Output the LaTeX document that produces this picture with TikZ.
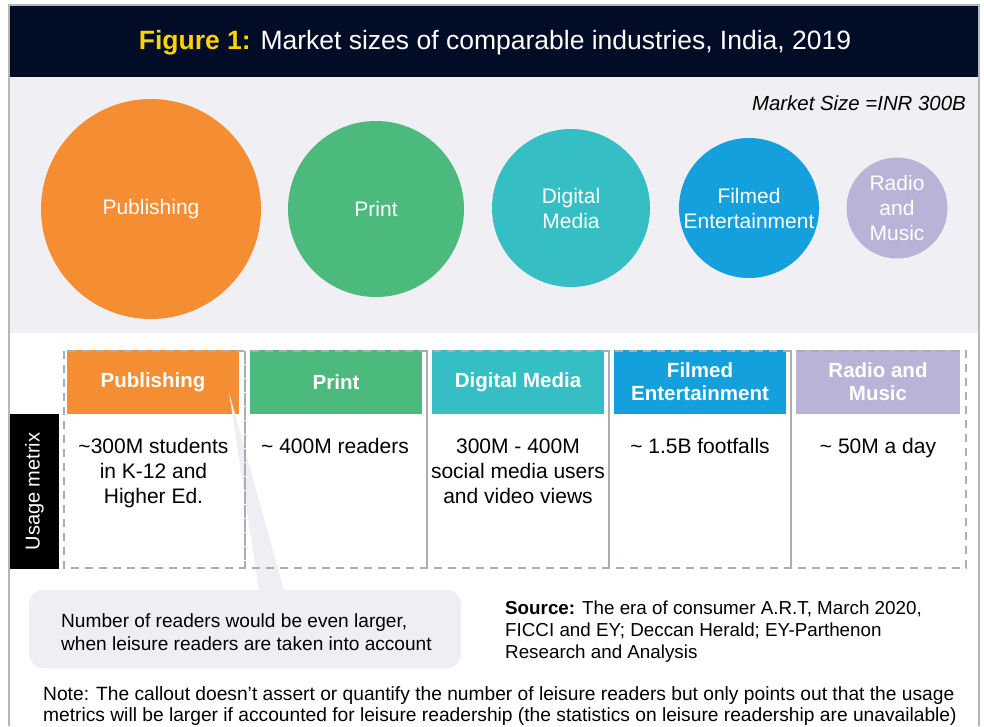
\documentclass[tikz,border=0pt]{standalone}
\usepackage{fontspec}
\setmainfont{Liberation Sans}
\usepackage{tikz}

\definecolor{navy}{HTML}{010D26}
\definecolor{figyellow}{HTML}{FFD200}
\definecolor{band}{HTML}{F0F0F4}
\definecolor{framegray}{HTML}{B4B6BA}
\definecolor{dashgray}{HTML}{A9AEB4}
\definecolor{calloutgray}{HTML}{EFEFF3}
\definecolor{pubcol}{HTML}{F58D32}
\definecolor{printcol}{HTML}{4BBA7C}
\definecolor{digcol}{HTML}{35BEC4}
\definecolor{filmcol}{HTML}{14A0DC}
\definecolor{radiocol}{HTML}{B9B3D7}

\tikzset{
  bubble/.style = {circle, inner sep = 0pt, minimum size = #1, text = white, align = center, font = \fontsize{21}{25}\selectfont},
  header/.style = {inner sep = 0pt, minimum height = 64pt, minimum width = #1, text = white, align = center, font = \fontsize{20.5}{23}\selectfont\bfseries},
  metric/.style = {anchor = base, inner sep = 0pt, align = center, font = \fontsize{21}{25}\selectfont},
  column/.style = {draw = dashgray, line width = 1.2pt, dash pattern = on 8pt off 6pt},
  small/.style = {anchor = base west, inner sep = 0pt, align = left, font = \fontsize{18.8}{22}\selectfont}
}

\begin{document}
\begin{tikzpicture}[x = 1pt, y = -1pt]
%\draw[very thin, color = gray](0, 0) grid (984, 726);
\useasboundingbox (0, 0) rectangle (984, 726);
\fill [white] (0, 0) rectangle (984, 726);
\fill [navy] (9, 5) rectangle (979, 77);
\fill [band] (9, 77) rectangle (979, 333);
\draw [line width = 1.5pt, color = framegray] (9, 726) -- (9, 5) -- (979, 5) -- (979, 726);
\node (title) [anchor = base, inner sep = 0pt, font = \fontsize{26.5}{30}\selectfont] at (495, 49) {\textcolor{figyellow}{\bfseries Figure 1:} \textcolor{white}{Market sizes of comparable industries, India, 2019}};
\node (scale) [anchor = base east, inner sep = 0pt, font = \fontsize{20.4}{23}\selectfont\itshape] at (966, 110) {Market Size =INR 300B};
\node (pub) [bubble = 220pt, fill = pubcol] at (151, 209) {Publishing};
\node (print) [bubble = 176pt, fill = printcol] at (376, 209) {Print};
\node (dig) [bubble = 158pt, fill = digcol] at (571, 208) {Digital\\Media};
\node (film) [bubble = 140pt, fill = filmcol] at (749, 208) {Filmed\\Entertainment};
\node (radio) [bubble = 101pt, fill = radiocol] at (897, 208) {Radio\\and\\Music};
\node (hpub) [header = 172pt, fill = pubcol] at (153, 382) {Publishing};
\node (hprint) [header = 172pt, fill = printcol] at (336, 382) {Print};
\node (hdig) [header = 172pt, fill = digcol] at (518, 382) {Digital Media};
\node (hfilm) [header = 172pt, fill = filmcol] at (700, 382) {Filmed\\Entertainment};
\node (hradio) [header = 164pt, fill = radiocol] at (878, 382) {Radio and\\Music};
\fill [calloutgray] (229, 392) -- (259, 591) -- (284, 591) -- cycle;
\draw [column] (64, 351) rectangle (245, 568);
\draw [column] (245, 351) rectangle (427, 568);
\draw [column] (427, 351) rectangle (609, 568);
\draw [column] (609, 351) rectangle (791, 568);
\draw [column] (791, 351) rectangle (966, 568);
\node (usage) [fill = black, rotate = 90, inner sep = 0pt, minimum width = 155pt, minimum height = 49pt, text = white, font = \fontsize{20}{25}\selectfont] at (34.5, 491.5) {Usage metrix};
\node (mpub) [metric] at (153.5, 503) {\textasciitilde300M students\\in K-12 and\\Higher Ed.};
\node (mprint) [metric] at (335, 453) {\textasciitilde{} 400M readers};
\node (mdig) [metric] at (518, 503) {300M - 400M\\social media users\\and video views};
\node (mfilm) [metric] at (700, 453) {\textasciitilde{} 1.5B footfalls};
\node (mradio) [metric] at (878, 453) {\textasciitilde{} 50M a day};
\fill [calloutgray, rounded corners = 14pt] (29, 590) rectangle (461, 668);
\node (callout) [small, font = \fontsize{19.1}{23}\selectfont] at (61, 650) {Number of readers would be even larger,\\when leisure readers are taken into account};
\node (source) [small] at (505, 658) {\textbf{Source:} The era of consumer A.R.T, March 2020,\\FICCI and EY; Deccan Herald; EY-Parthenon\\Research and Analysis};
\node (note) [small, font = \fontsize{19.2}{21}\selectfont] at (43, 721) {Note: The callout doesn't assert or quantify the number of leisure readers but only points out that the usage\\metrics will be larger if accounted for leisure readership (the statistics on leisure readership are unavailable)};
\end{tikzpicture}
\end{document}
